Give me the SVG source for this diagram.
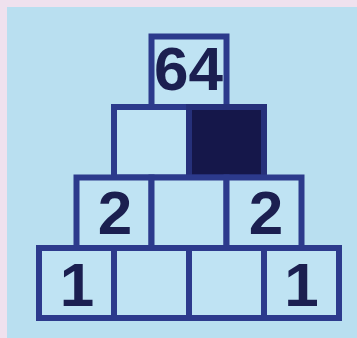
<svg xmlns="http://www.w3.org/2000/svg" width="357" height="338" viewBox="0 0 357 338">
<style>
.cell{fill:#bfe3f3;stroke:#2c3a8c;stroke-width:6;stroke-linejoin:miter}
.dark{fill:#15174a;stroke:#26307a;stroke-width:6}
.num{font-family:"Liberation Sans",Arial,sans-serif;font-weight:bold;font-size:62px;fill:#1b1f50;text-anchor:middle}
</style>
<rect x="0" y="0" width="357" height="338" fill="#efe1ee"/>
<rect x="7" y="7" width="350" height="331" fill="#b9dff0"/>
<g id="connectors"></g>
<g id="top"><rect class="cell" x="151.5" y="36.5" width="75" height="70.5"/><text class="num" x="188.5" y="90">64</text></g>
<g id="r2c1"><rect class="cell" x="114" y="107" width="75" height="70.5"/></g>
<g id="r2c2"><rect class="dark" x="189" y="107" width="75" height="70.5"/></g>
<g id="r3c1"><rect class="cell" x="76.5" y="177.5" width="75" height="70.5"/><text class="num" x="115" y="234">2</text></g>
<g id="r3c2"><rect class="cell" x="151.5" y="177.5" width="75" height="70.5"/></g>
<g id="r3c3"><rect class="cell" x="226.5" y="177.5" width="75" height="70.5"/><text class="num" x="266" y="234">2</text></g>
<g id="r4c1"><rect class="cell" x="39" y="248" width="75" height="70"/><text class="num" x="77" y="306">1</text></g>
<g id="r4c2"><rect class="cell" x="114" y="248" width="75" height="70"/></g>
<g id="r4c3"><rect class="cell" x="189" y="248" width="75" height="70"/></g>
<g id="r4c4"><rect class="cell" x="264" y="248" width="75" height="70"/><text class="num" x="301.5" y="306">1</text></g>
</svg>
